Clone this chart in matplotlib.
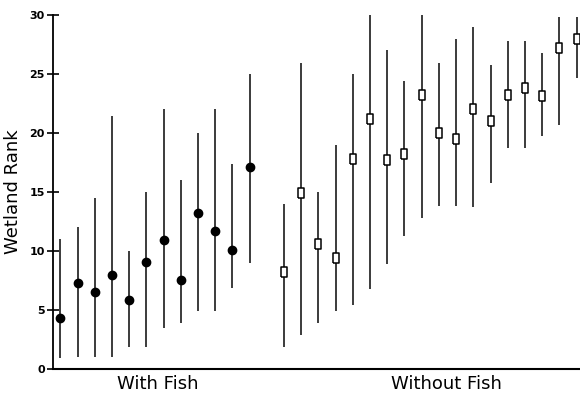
import matplotlib
matplotlib.use('Agg')
import matplotlib.pyplot as plt
import numpy as np

# With Fish: mean rank and range
fish_mean = [4.35, 7.3, 6.5, 8.0, 5.85, 9.1, 10.9, 7.5, 13.25, 11.7, 10.1, 17.15]
fish_low = [0.9, 1.0, 1.0, 1.0, 1.9, 1.9, 3.45, 3.9, 4.9, 4.9, 6.9, 8.95]
fish_high = [11.0, 12.0, 14.5, 21.4, 10.0, 15.0, 22.0, 16.0, 20.0, 22.0, 17.4, 25.0]

# Without Fish
nofish_mean = [8.25, 14.9, 10.55, 9.4, 17.8, 21.2, 17.7, 18.2, 23.2, 20.0, 19.5, 22.0,
               21.0, 23.2, 23.8, 23.1, 27.2, 28.0]
nofish_low = [1.9, 2.9, 3.9, 4.9, 5.4, 6.8, 8.9, 11.3, 12.8, 13.8, 13.8, 13.75,
              15.8, 18.75, 18.75, 19.75, 20.7, 24.7]
nofish_high = [14.0, 25.9, 15.0, 19.0, 25.0, 30.0, 27.0, 24.4, 30.0, 25.9, 28.0, 29.0,
               25.8, 27.8, 27.8, 26.8, 29.8, 29.8]

yticks = [0, 5, 10, 15, 20, 25, 30]

x_fish = np.arange(1, len(fish_mean) + 1)
x_nofish = np.arange(len(fish_mean) + 2, len(fish_mean) + 2 + len(nofish_mean))

fig = plt.figure(figsize=(5.8, 3.96), dpi=100)
ax = fig.add_axes([0.0914, 0.0682, 0.9086, 0.894])

ax.vlines(x_fish, fish_low, fish_high, color='#1a1a1a', lw=1.2)
ax.vlines(x_nofish, nofish_low, nofish_high, color='#1a1a1a', lw=1.2)

ax.plot(x_fish, fish_mean, 'o', color='black', ms=6, ls='none')

box = [(-0.6, -1), (0.6, -1), (0.6, 1), (-0.6, 1), (-0.6, -1)]
ax.plot(x_nofish, nofish_mean, marker=box, ms=7.5, mfc='white', mec='black', mew=1.1, ls='none')

ax.set_xlim(0.575, 31.2)
ax.set_ylim(0, 30)
ax.set_yticks(yticks)
ax.set_xticks([])
ax.tick_params(axis='y', direction='inout', length=8, width=1.2, labelsize=8, pad=2)
for lab in ax.get_yticklabels():
    lab.set_fontweight('bold')
for s in ['top', 'right']:
    ax.spines[s].set_visible(False)
ax.spines['left'].set_linewidth(1.3)
ax.spines['bottom'].set_linewidth(1.5)

ax.set_ylabel('Wetland Rank', fontsize=13, labelpad=5)
ax.text(6.65, -1.3, 'With Fish', ha='center', va='center', fontsize=13, clip_on=False)
ax.text(23.41, -1.3, 'Without Fish', ha='center', va='center', fontsize=13, clip_on=False)

fig.savefig('out.png', dpi=100)
